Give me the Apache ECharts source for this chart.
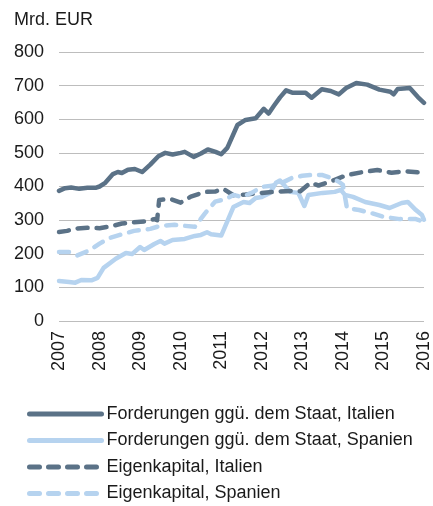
<!DOCTYPE html>
<html>
<head>
<meta charset="utf-8">
<script src="https://cdn.jsdelivr.net/npm/echarts@6/dist/echarts.min.js"></script>
<style>
  html, body { margin: 0; padding: 0; background: #fff; }
  #main { width: 433px; height: 506px; }
</style>
</head>
<body>
<div id="main"></div>
<script>
'use strict';

// x in decimal years, y in Mrd. EUR
var yearTicks = [2007, 2008, 2009, 2010, 2011, 2012, 2013, 2014, 2015, 2016];

var itaStaatT = [2007.0, 2007.15, 2007.3, 2007.5, 2007.7, 2007.9, 2008.0, 2008.13, 2008.33, 2008.45, 2008.55, 2008.7, 2008.87, 2009.05, 2009.25, 2009.45, 2009.62, 2009.8, 2010.0, 2010.1, 2010.32, 2010.5, 2010.67, 2010.86, 2011.0, 2011.15, 2011.4, 2011.6, 2011.85, 2012.05, 2012.17, 2012.3, 2012.45, 2012.6, 2012.75, 2013.08, 2013.23, 2013.48, 2013.7, 2013.9, 2014.08, 2014.33, 2014.6, 2014.9, 2015.17, 2015.25, 2015.35, 2015.65, 2015.85, 2016.0];
var itaStaatV = [387, 395, 397, 393, 396, 396, 400, 410, 437, 443, 440, 450, 452, 443, 465, 490, 500, 495, 500, 503, 488, 498, 510, 503, 496, 515, 583, 598, 603, 631, 617, 640, 665, 686, 679, 679, 664, 689, 684, 674, 693, 708, 703, 688, 682, 674, 690, 693, 666, 649];

var espStaatT = [2007.0, 2007.25, 2007.4, 2007.55, 2007.8, 2007.95, 2008.1, 2008.4, 2008.65, 2008.8, 2009.0, 2009.1, 2009.35, 2009.5, 2009.6, 2009.8, 2010.1, 2010.35, 2010.5, 2010.65, 2010.75, 2011.0, 2011.3, 2011.55, 2011.7, 2011.85, 2012.0, 2012.2, 2012.35, 2012.45, 2012.7, 2012.9, 2013.05, 2013.15, 2013.5, 2013.8, 2013.95, 2014.05, 2014.25, 2014.55, 2014.9, 2015.15, 2015.45, 2015.6, 2015.8, 2015.95, 2016.0];
var espStaatV = [119, 116, 114, 122, 121, 128, 158, 185, 202, 199, 220, 211, 229, 238, 230, 241, 244, 253, 256, 264, 258, 254, 339, 354, 351, 366, 369, 381, 411, 418, 384, 381, 342, 375, 381, 384, 390, 375, 369, 354, 345, 336, 351, 354, 330, 315, 301];

var itaEkT = [2007.0, 2007.2, 2007.4, 2007.7, 2008.0, 2008.3, 2008.55, 2008.8, 2009.1, 2009.35, 2009.42, 2009.47, 2009.75, 2010.0, 2010.25, 2010.6, 2010.85, 2011.05, 2011.3, 2011.6, 2012.0, 2012.4, 2012.75, 2012.95, 2013.2, 2013.4, 2013.6, 2013.8, 2014.1, 2014.45, 2014.85, 2015.2, 2015.55, 2016.0];
var itaEkV = [265, 268, 275, 277, 276, 282, 290, 293, 296, 303, 300, 360, 363, 352, 370, 384, 385, 393, 374, 376, 381, 385, 387, 386, 411, 403, 411, 420, 434, 442, 449, 441, 445, 441];

var espEkT = [2007.0, 2007.25, 2007.45, 2007.75, 2008.0, 2008.25, 2008.5, 2008.85, 2009.25, 2009.5, 2009.85, 2010.1, 2010.35, 2010.6, 2010.85, 2011.1, 2011.3, 2011.5, 2011.75, 2012.0, 2012.25, 2012.5, 2012.75, 2013.0, 2013.3, 2013.5, 2013.7, 2013.9, 2014.0, 2014.1, 2014.4, 2014.7, 2015.0, 2015.4, 2015.8, 2016.0];
var espEkV = [205, 205, 195, 210, 230, 247, 256, 268, 274, 283, 286, 283, 280, 320, 355, 362, 375, 369, 381, 399, 402, 411, 426, 432, 435, 434, 426, 414, 405, 336, 330, 321, 310, 303, 303, 295];

var seriesNames = [
    'Forderungen ggü. dem Staat, Italien',
    'Forderungen ggü. dem Staat, Spanien',
    'Eigenkapital, Italien',
    'Eigenkapital, Spanien'
];

var darkBlue = '#5b7287';
var lightBlue = '#b6d3ef';
var fontName = 'Liberation Sans, Arial, sans-serif';

function pairs(t, v) {
    var d = [];
    for (var i = 0; i < t.length; i++) {
        d.push([t[i], v[i]]);
    }
    return d;
}

function lineSeries(name, data, color, dashed) {
    return {
        name: name,
        type: 'line',
        data: data,
        symbol: 'none',
        smooth: false,
        lineStyle: {
            color: color,
            width: 4.5,
            type: dashed ? [10, 9] : 'solid',
            cap: 'round',
            join: 'round'
        },
        itemStyle: { color: color }
    };
}

var myChart = echarts.init(document.getElementById('main'));
var option = {
    animation: false,
    textStyle: { fontFamily: fontName, color: '#1a1a1a' },
    title: {
        text: 'Mrd. EUR',
        left: 9,
        top: 6,
        textStyle: { fontSize: 18, fontWeight: 'normal', color: '#1a1a1a', fontFamily: fontName }
    },
    legend: {
        orient: 'vertical',
        left: 27,
        top: 405,
        padding: 0,
        itemWidth: 72,
        itemHeight: 14,
        itemGap: 8.5,
        data: seriesNames,
        itemStyle: { opacity: 0 },
        lineStyle: { width: 5 },
        textStyle: { fontSize: 18, lineHeight: 18, color: '#1a1a1a' }
    },
    grid: {
        left: 59,
        right: 9,
        top: 52,
        bottom: 185
    },
    xAxis: {
        type: 'value',
        min: 2007,
        max: 2016,
        interval: 1,
        axisLine: { show: false },
        axisTick: { show: false },
        splitLine: { show: false },
        axisLabel: {
            rotate: 90,
            fontSize: 18,
            color: '#1a1a1a',
            margin: 10,
            formatter: function(v) {
                return yearTicks.indexOf(v) >= 0 ? String(v) : '';
            }
        }
    },
    yAxis: {
        type: 'value',
        min: 0,
        max: 800,
        interval: 100,
        axisLine: { show: false },
        axisTick: { show: false },
        axisLabel: { fontSize: 18, color: '#1a1a1a', margin: 15 },
        splitLine: { lineStyle: { color: '#bdbdbd', width: 1 } }
    },
    series: [
        lineSeries(seriesNames[0], pairs(itaStaatT, itaStaatV), darkBlue, false),
        lineSeries(seriesNames[1], pairs(espStaatT, espStaatV), lightBlue, false),
        lineSeries(seriesNames[2], pairs(itaEkT, itaEkV), darkBlue, true),
        lineSeries(seriesNames[3], pairs(espEkT, espEkV), lightBlue, true)
    ]
};
myChart.setOption(option);
</script>
</body>
</html>
